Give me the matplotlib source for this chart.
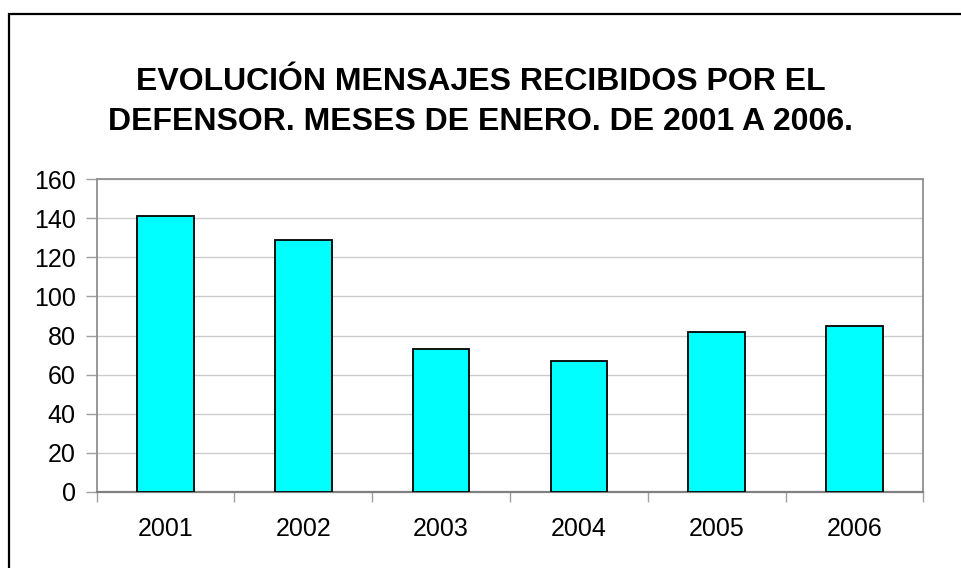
import matplotlib
matplotlib.use("Agg")
import matplotlib.pyplot as plt
from matplotlib.patches import Rectangle

years = ["2001", "2002", "2003", "2004", "2005", "2006"]
mensajes = [141, 129, 73, 67, 82, 85]
yticks = [0, 20, 40, 60, 80, 100, 120, 140, 160]
title = "EVOLUCIÓN MENSAJES RECIBIDOS POR EL\nDEFENSOR. MESES DE ENERO. DE 2001 A 2006."

plt.rcParams['font.family'] = ['Liberation Sans', 'DejaVu Sans']

W, H = 962, 568
fig = plt.figure(figsize=(W / 100, H / 100), dpi=100)
fig.patch.set_facecolor("white")

# outer chart frame (clipped at right and bottom)
fig.patches.append(Rectangle((9 / W, -0.05), 1.2, (H - 14) / H + 0.05,
                             transform=fig.transFigure, fill=False,
                             edgecolor="black", linewidth=1.6))

ax = fig.add_axes([96.7 / W, (H - 491.7) / H, (923.3 - 96.7) / W, (491.7 - 179.3) / H])
x = list(range(len(years)))
ax.bar(x, mensajes, width=0.41, color="#00FFFF", edgecolor="black", linewidth=1.3, zorder=3)
ax.set_xlim(-0.5, len(years) - 0.5)
ax.set_ylim(0, 160)
ax.set_yticks(yticks)
ax.set_yticklabels([str(v) for v in yticks], fontsize=18)
ax.yaxis.grid(True, color="#cccccc", linewidth=1.0, zorder=0)
ax.set_axisbelow(True)

ax.set_xticks(x)
ax.set_xticklabels(years, fontsize=18)
ax.set_xticks([i + 0.5 for i in range(-1, len(years))], minor=True)
ax.tick_params(axis="x", which="major", length=0, pad=18)
ax.tick_params(axis="x", which="minor", length=7, color="#a0a0a0", width=1)
ax.tick_params(axis="y", length=8, color="#a0a0a0", width=1, pad=7)

for s in ["top", "right", "left"]:
    ax.spines[s].set_color("#909090")
    ax.spines[s].set_linewidth(1.3)
ax.spines["bottom"].set_color("#808080")
ax.spines["bottom"].set_linewidth(1.6)

fig.text(0.5, (H - 102) / H, title, ha="center", va="center", fontsize=23,
         fontweight="bold", linespacing=1.4)

fig.savefig("out.png", dpi=100, facecolor="white")
